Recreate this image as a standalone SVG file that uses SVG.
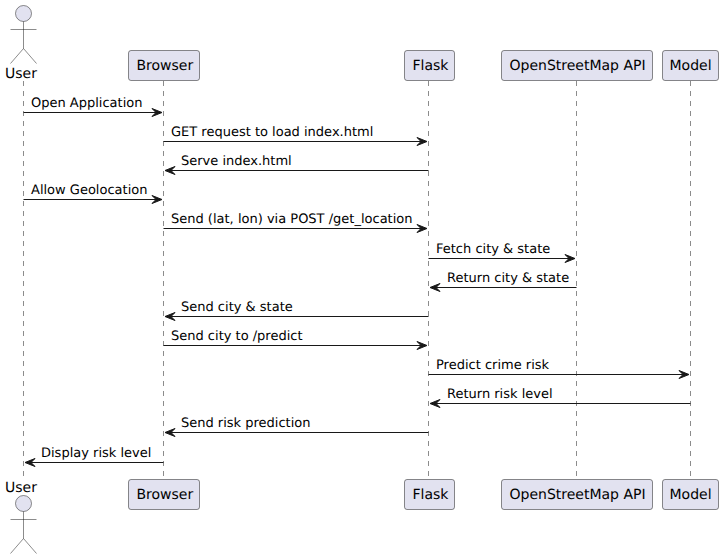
<svg xmlns="http://www.w3.org/2000/svg" width="723" height="559" viewBox="0 0 723 559">
<style>
text{font-family:"DejaVu Sans",sans-serif;fill:#000;text-rendering:geometricPrecision}
.p{font-size:14px}
.m{font-size:13px}
.box{fill:#E2E2F0;stroke:#181818;stroke-width:.5}
.act{fill:#E2E2F0;stroke:#181818;stroke-width:.5}
.ln{fill:none;stroke:#181818;stroke-width:.5}
.life{stroke:#181818;stroke-width:.5;stroke-dasharray:5,5;fill:none}
.msg{stroke:#181818;stroke-width:1;fill:none}
.head{fill:#181818;stroke:#181818;stroke-width:1}
</style>
<defs>
<g id="actor"><circle class="act" cx="0" cy="0" r="8"/><path class="ln" d="M0 8V35M-13 16H13M0 35L-13 50M0 35L13 50"/></g>
</defs>
<g id="lifelines">
<path class="life" d="M23.5 81V476"/>
<path class="life" d="M163.5 81V476"/>
<path class="life" d="M428.5 81V476"/>
<path class="life" d="M576.5 81V476"/>
<path class="life" d="M690.5 81V476"/>
</g>
<g id="connectors">
<g id="m1"><path class="msg" d="M23.5 112.500H159"/><path class="head" d="M152 108.500L162 112.500L152 116.500L156 112.500Z"/><text class="m" x="31" y="107">Open Application</text></g>
<g id="m2"><path class="msg" d="M163.500 141.500H424"/><path class="head" d="M417 137.500L427 141.500L417 145.500L421 141.500Z"/><text class="m" x="171" y="136">GET request to load index.html</text></g>
<g id="m3"><path class="msg" d="M428.500 170.500H168"/><path class="head" d="M175 166.500L165 170.500L175 174.500L171 170.500Z"/><text class="m" x="181" y="165">Serve index.html</text></g>
<g id="m4"><path class="msg" d="M23.5 199.500H159"/><path class="head" d="M152 195.500L162 199.500L152 203.500L156 199.500Z"/><text class="m" x="31" y="194">Allow Geolocation</text></g>
<g id="m5"><path class="msg" d="M163.500 228.500H424"/><path class="head" d="M417 224.500L427 228.500L417 232.500L421 228.500Z"/><text class="m" x="171" y="223">Send (lat, lon) via POST /get_location</text></g>
<g id="m6"><path class="msg" d="M428.500 258.500H572"/><path class="head" d="M565 254.500L575 258.500L565 262.500L569 258.500Z"/><text class="m" x="436" y="253">Fetch city &amp; state</text></g>
<g id="m7"><path class="msg" d="M576.500 287.500H433"/><path class="head" d="M440 283.500L430 287.500L440 291.500L436 287.500Z"/><text class="m" x="447" y="282">Return city &amp; state</text></g>
<g id="m8"><path class="msg" d="M428.500 316.500H168"/><path class="head" d="M175 312.500L165 316.500L175 320.500L171 316.500Z"/><text class="m" x="181" y="311">Send city &amp; state</text></g>
<g id="m9"><path class="msg" d="M163.500 345.500H424"/><path class="head" d="M417 341.500L427 345.500L417 349.500L421 345.500Z"/><text class="m" x="171" y="340">Send city to /predict</text></g>
<g id="m10"><path class="msg" d="M428.500 374.500H686"/><path class="head" d="M679 370.500L689 374.500L679 378.500L683 374.500Z"/><text class="m" x="436" y="369">Predict crime risk</text></g>
<g id="m11"><path class="msg" d="M690.500 403.500H433"/><path class="head" d="M440 399.500L430 403.500L440 407.500L436 403.500Z"/><text class="m" x="447" y="398">Return risk level</text></g>
<g id="m12"><path class="msg" d="M428.500 432.500H168"/><path class="head" d="M175 428.500L165 432.500L175 436.500L171 432.500Z"/><text class="m" x="181" y="427">Send risk prediction</text></g>
<g id="m13"><path class="msg" d="M163.500 462.500H28"/><path class="head" d="M35 458.500L25 462.500L35 466.500L31 462.500Z"/><text class="m" x="41" y="457">Display risk level</text></g>
</g>
<g id="user-top"><use href="#actor" x="23.500" y="13.500"/><text class="p" x="5" y="78">User</text></g>
<g id="user-bottom"><use href="#actor" x="23.500" y="503.500"/><text class="p" x="5" y="492">User</text></g>
<g id="browser-top"><rect class="box" x="128.500" y="50.500" width="71" height="30" rx="2.500"/><text class="p" x="136.500" y="70">Browser</text></g>
<g id="browser-bottom"><rect class="box" x="128.500" y="479.500" width="71" height="30" rx="2.500"/><text class="p" x="136.500" y="499">Browser</text></g>
<g id="flask-top"><rect class="box" x="404.500" y="50.500" width="50" height="30" rx="2.500"/><text class="p" x="412.500" y="70">Flask</text></g>
<g id="flask-bottom"><rect class="box" x="404.500" y="479.500" width="50" height="30" rx="2.500"/><text class="p" x="412.500" y="499">Flask</text></g>
<g id="osm-top"><rect class="box" x="501.500" y="50.500" width="151" height="30" rx="2.500"/><text class="p" x="509.500" y="70">OpenStreetMap API</text></g>
<g id="osm-bottom"><rect class="box" x="501.500" y="479.500" width="151" height="30" rx="2.500"/><text class="p" x="509.500" y="499">OpenStreetMap API</text></g>
<g id="model-top"><rect class="box" x="662.500" y="50.500" width="56" height="30" rx="2.500"/><text class="p" x="669.500" y="70">Model</text></g>
<g id="model-bottom"><rect class="box" x="662.500" y="479.500" width="56" height="30" rx="2.500"/><text class="p" x="669.500" y="499">Model</text></g>
</svg>
